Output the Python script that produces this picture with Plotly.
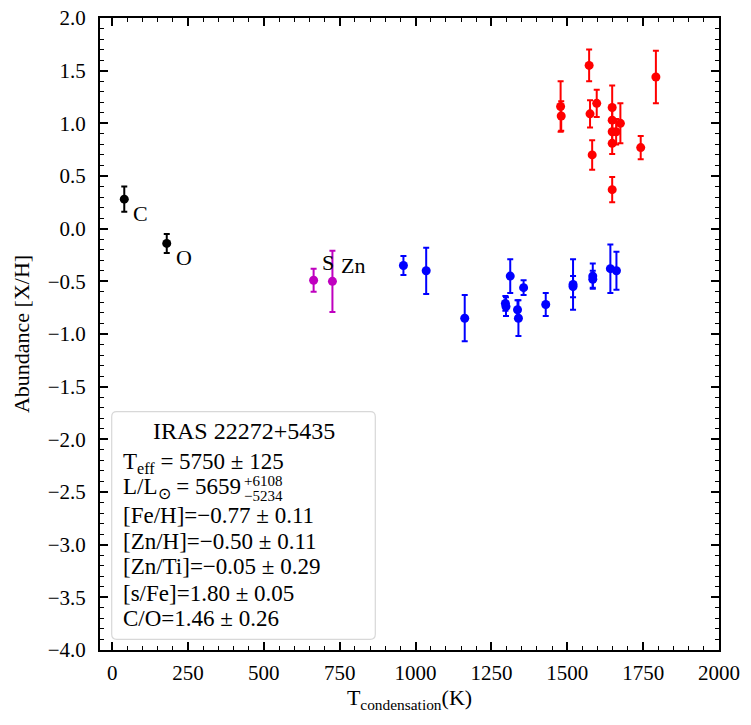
import plotly.graph_objects as go

# ---- data ----
black_T = [40, 180]
black_ab = [0.28, -0.14]
black_err = [0.12, 0.09]
black_labels = ["C", "O"]

mag_T = [664, 726]
mag_ab = [-0.49, -0.50]
mag_err = [0.11, 0.29]
mag_labels = ["S", "Zn"]

blue_T = [960, 1035, 1162, 1296, 1298, 1312, 1336, 1339, 1356, 1429, 1519, 1519, 1584, 1584, 1642, 1662]
blue_ab = [-0.35, -0.40, -0.85, -0.71, -0.74, -0.45, -0.77, -0.85, -0.56, -0.72, -0.53, -0.55, -0.45, -0.48, -0.38, -0.40]
blue_err = [0.09, 0.22, 0.22, 0.07, 0.09, 0.16, 0.09, 0.17, 0.07, 0.11, 0.24, 0.10, 0.12, 0.08, 0.23, 0.18]

red_T = [1478, 1480, 1572, 1575, 1597, 1582, 1648, 1648, 1648, 1661, 1648, 1675, 1742, 1792, 1648]
red_ab = [1.16, 1.07, 1.55, 1.09, 1.19, 0.70, 1.15, 1.03, 0.92, 0.92, 0.81, 1.00, 0.77, 1.44, 0.37]
red_err = [0.24, 0.14, 0.15, 0.13, 0.13, 0.14, 0.21, 0.12, 0.12, 0.12, 0.10, 0.19, 0.11, 0.25, 0.12]

title_text = "IRAS 22272+5435"
info_lines = [
    "T<sub>eff</sub> = 5750 ± 125",
    "L/L<sub>⊙</sub> = 5659",
    "[Fe/H]=−0.77 ± 0.11",
    "[Zn/H]=−0.50 ± 0.11",
    "[Zn/Ti]=−0.05 ± 0.29",
    "[s/Fe]=1.80 ± 0.05",
    "C/O=1.46 ± 0.26",
]
lum_up = "+6108"
lum_dn = "−5234"

x_ticks = [0, 250, 500, 750, 1000, 1250, 1500, 1750, 2000]
y_ticks = [2.0, 1.5, 1.0, 0.5, 0.0, -0.5, -1.0, -1.5, -2.0, -2.5, -3.0, -3.5, -4.0]

FONT = "Liberation Serif"

fig = go.Figure()


def add_series(T, ab, err, color):
    fig.add_trace(go.Scatter(
        x=T, y=ab, mode="markers",
        marker=dict(color=color, size=9),
        error_y=dict(type="data", array=err, visible=True, color=color,
                     thickness=2, width=3),
        showlegend=False,
    ))


add_series(black_T, black_ab, black_err, "black")
add_series(mag_T, mag_ab, mag_err, "#bf00bf")
add_series(blue_T, blue_ab, blue_err, "#0000ff")
add_series(red_T, red_ab, red_err, "#ff0000")

annotations = []
# element labels
for T, ab, lab in zip(black_T, black_ab, black_labels):
    annotations.append(dict(x=T, y=ab, xref="x", yref="y", text=lab, showarrow=False,
                            xanchor="left", yanchor="middle", xshift=7, yshift=-14,
                            font=dict(family=FONT, size=22, color="black")))
annotations.append(dict(x=mag_T[0], y=mag_ab[0], xref="x", yref="y", text=mag_labels[0],
                        showarrow=False, xanchor="left", yanchor="middle", xshift=6, yshift=18,
                        font=dict(family=FONT, size=22, color="black")))
annotations.append(dict(x=mag_T[1], y=mag_ab[1], xref="x", yref="y", text=mag_labels[1],
                        showarrow=False, xanchor="left", yanchor="middle", xshift=7, yshift=16,
                        font=dict(family=FONT, size=22, color="black")))

# info box (paper coordinates of the plot area, 619 x 632 px)
PW, PH = 619.0, 632.0
bx0, bx1, by0, by1 = 11.7 / PW, 275.3 / PW, 10.7 / PH, 238.3 / PH
rx, ry = 5 / PW, 5 / PH
path = (f"M {bx0+rx},{by0} L {bx1-rx},{by0} Q {bx1},{by0} {bx1},{by0+ry} "
        f"L {bx1},{by1-ry} Q {bx1},{by1} {bx1-rx},{by1} L {bx0+rx},{by1} "
        f"Q {bx0},{by1} {bx0},{by1-ry} L {bx0},{by0+ry} Q {bx0},{by0} {bx0+rx},{by0} Z")
shapes = [dict(type="path", path=path, xref="paper", yref="paper",
               line=dict(color="#d8d8d8", width=1.2), fillcolor="rgba(255,255,255,0.8)")]

annotations.append(dict(x=(bx0 + bx1) / 2, y=(650 - 430.7) / PH, xref="paper", yref="paper",
                        text=title_text, showarrow=False, xanchor="center", yanchor="middle",
                        font=dict(family=FONT, size=24, color="black")))
line_y = [463, 488, 515, 541.7, 566.7, 593, 618]
for txt, py in zip(info_lines, line_y):
    annotations.append(dict(x=20.7 / PW, y=(650 - py) / PH, xref="paper", yref="paper",
                            text=txt, showarrow=False, xanchor="left", yanchor="middle",
                            font=dict(family=FONT, size=23, color="black")))
annotations.append(dict(x=142.0 / PW, y=(650 - 481) / PH, xref="paper", yref="paper",
                        text=lum_up, showarrow=False, xanchor="left", yanchor="middle",
                        font=dict(family=FONT, size=15, color="black")))
annotations.append(dict(x=142.0 / PW, y=(650 - 496) / PH, xref="paper", yref="paper",
                        text=lum_dn, showarrow=False, xanchor="left", yanchor="middle",
                        font=dict(family=FONT, size=15, color="black")))

axis_common = dict(
    showline=True, linewidth=2, linecolor="black", mirror="allticks",
    ticks="inside", ticklen=8, tickwidth=1.5, tickcolor="black",
    showgrid=False, zeroline=False, automargin=False, ticklabeloverflow="allow",
    tickfont=dict(family=FONT, size=21, color="black"),
)

fig.update_layout(
    width=743, height=717,
    margin=dict(l=92, r=32, t=10, b=75),
    plot_bgcolor="white", paper_bgcolor="white",
    shapes=shapes, annotations=annotations,
    xaxis=dict(range=[-40, 2000], tickvals=x_ticks, ticktext=[str(v) for v in x_ticks],
               minor=dict(dtick=50, ticks="inside", ticklen=4, tickwidth=1, tickcolor="black"),
               title=dict(text="T<sub>condensation</sub>(K)", font=dict(family=FONT, size=22, color="black"),
                          standoff=2),
               ticklabelstandoff=3,
               **axis_common),
    yaxis=dict(range=[-4.0, 2.0], tickvals=y_ticks,
               ticktext=[f"{v:.1f}".replace("-", "−") for v in y_ticks],
               minor=dict(dtick=0.1, ticks="inside", ticklen=4, tickwidth=1, tickcolor="black"),
               title=dict(text="Abundance [X/H]", font=dict(family=FONT, size=22, color="black"),
                          standoff=12),
               ticklabelstandoff=8,
               **axis_common),
)

fig.write_html("out.html")
